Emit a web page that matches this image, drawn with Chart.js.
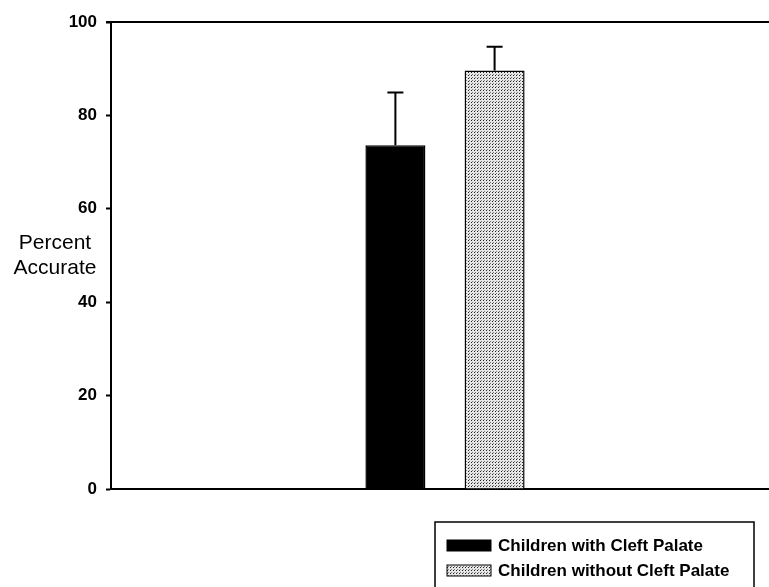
<!DOCTYPE html>
<html>
<head>
<meta charset="utf-8">
<script src="https://cdn.jsdelivr.net/npm/chart.js@4"></script>
<style>
  html, body { margin: 0; padding: 0; background: #fff; overflow: hidden; }
  #wrap { position: relative; width: 769px; height: 587px; overflow: hidden; }
</style>
</head>
<body>
<div id="wrap"><canvas id="chart" width="779" height="587"></canvas></div>
<script>
// data
const categories = ['Accuracy'];
const seriesNames = ['Children with Cleft Palate', 'Children without Cleft Palate'];
const withCleft = [73.6];
const withoutCleft = [89.6];
const withCleftErr = [11.3];
const withoutCleftErr = [5.1];
const yTicks = [0, 20, 40, 60, 80, 100];

const FONT = '"Liberation Sans", Arial, Helvetica, sans-serif';

// dotted grey fill like the scanned screen tone
function makeDots() {
    const c = document.createElement('canvas');
    c.width = 3; c.height = 3;
    const g = c.getContext('2d');
    g.fillStyle = '#e6e6e6';
    g.fillRect(0, 0, 3, 3);
    g.fillStyle = '#222';
    g.fillRect(0, 0, 1, 1);
    g.fillStyle = '#777';
    g.fillRect(1, 2, 1, 1);
    return g.createPattern(c, 'repeat');
}
const ctx = document.getElementById('chart').getContext('2d');
const dots = makeDots();

// error bars, frame top line, y label, boxed legend
const extras = {
    id: 'extras',
    afterDatasetsDraw(chart) {
        const c = chart.ctx;
        const y = chart.scales.y;
        const errs = [withCleftErr, withoutCleftErr];
        c.save();
        c.strokeStyle = '#000';
        c.lineWidth = 2;
        chart.data.datasets.forEach((ds, i) => {
            chart.getDatasetMeta(i).data.forEach((bar, j) => {
                const top = y.getPixelForValue(ds.data[j] + errs[i][j]);
                c.beginPath();
                c.moveTo(bar.x, bar.y);
                c.lineTo(bar.x, top);
                c.moveTo(bar.x - 8, top);
                c.lineTo(bar.x + 8, top);
                c.stroke();
            });
        });
        c.restore();
    },
    afterDraw(chart) {
        const c = chart.ctx;
        const a = chart.chartArea;
        c.save();
        c.strokeStyle = '#000';
        c.lineWidth = 2;
        c.beginPath();
        c.moveTo(a.left - 5, a.top);
        c.lineTo(a.right, a.top);
        c.stroke();

        c.fillStyle = '#000';
        c.font = '21px ' + FONT;
        c.textAlign = 'center';
        c.textBaseline = 'middle';
        c.fillText('Percent', 55, 243);
        c.fillText('Accurate', 55, 268);

        // legend box
        c.lineWidth = 1.5;
        c.strokeRect(435, 522, 319, 80);
        c.font = 'bold 17px ' + FONT;
        c.textAlign = 'left';
        chart.data.datasets.forEach((ds, i) => {
            const cy = 545 + i * 25;
            c.fillStyle = ds.backgroundColor;
            c.fillRect(447, cy - 5, 44, 11);
            c.strokeStyle = '#000';
            c.lineWidth = 1;
            c.strokeRect(447, cy - 5, 44, 11);
            c.fillStyle = '#000';
            c.fillText(ds.label, 498, cy + 1);
        });
        c.restore();
    }
};

new Chart(ctx, {
    type: 'bar',
    data: {
        labels: categories,
        datasets: [
            {
                label: seriesNames[0],
                data: withCleft,
                backgroundColor: '#000',
                borderColor: '#000',
                borderWidth: 1.5
            },
            {
                label: seriesNames[1],
                data: withoutCleft,
                backgroundColor: dots,
                borderColor: '#000',
                borderWidth: 1.5
            }
        ]
    },
    options: {
        responsive: false,
        animation: false,
        categoryPercentage: 0.297,
        barPercentage: 0.605,
        layout: { padding: { left: 0, right: 0, top: 22, bottom: 98 } },
        plugins: {
            legend: { display: false },
            tooltip: { enabled: false }
        },
        scales: {
            x: {
                ticks: { display: false },
                grid: { display: false },
                border: { color: '#000', width: 2 },
                afterFit: s => { s.height = 0; }
            },
            y: {
                min: 0,
                max: 100,
                afterBuildTicks: s => { s.ticks = yTicks.map(v => ({ value: v })); },
                afterFit: s => { s.width = 111; },
                ticks: {
                    color: '#000',
                    padding: 9,
                    font: { family: FONT, size: 17, weight: 'bold' }
                },
                grid: {
                    drawOnChartArea: false,
                    drawTicks: true,
                    tickLength: 5,
                    tickWidth: 2,
                    tickColor: '#000'
                },
                border: { color: '#000', width: 2 }
            }
        }
    },
    plugins: [extras]
});
</script>
</body>
</html>
